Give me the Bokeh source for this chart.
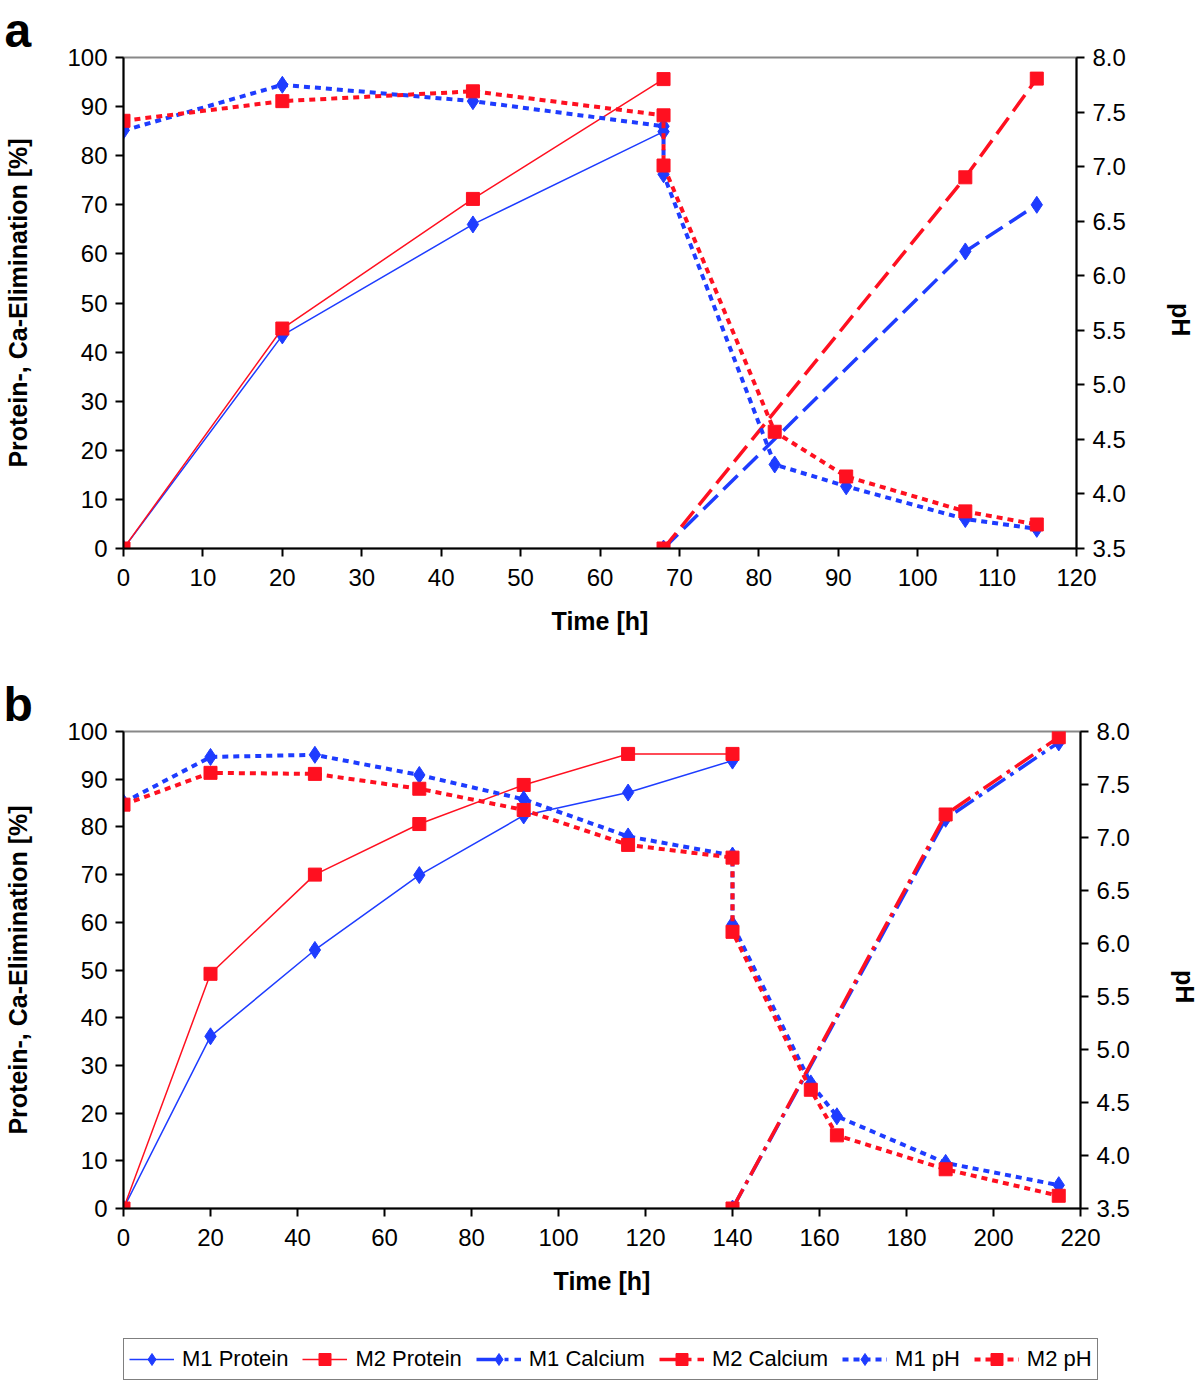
import math
from bokeh.plotting import figure
from bokeh.models import (Range1d, LinearAxis, FixedTicker, NumeralTickFormatter,
                          Legend, LegendItem)
from bokeh.layouts import column
from bokeh.embed import file_html
from bokeh.resources import INLINE

# ---------------- data ----------------
# Panel a
a_time_protein = [0, 20, 44, 68]
a_m1_protein = [0, 43.4, 66.0, 84.9]
a_m2_protein = [0, 44.8, 71.2, 95.6]
a_time_calcium = [68, 106, 115]
a_m1_calcium = [0, 60.5, 70.0]
a_m2_calcium = [0, 75.6, 95.7]
a_time_ph = [0, 20, 44, 68, 68, 82, 91, 106, 115]
a_m1_ph = [7.33, 7.75, 7.60, 7.37, 6.93, 4.27, 4.07, 3.77, 3.68]
a_m2_ph = [7.42, 7.60, 7.69, 7.47, 7.01, 4.57, 4.16, 3.84, 3.72]

# Panel b
b_time_protein = [0, 20, 44, 68, 92, 116, 140]
b_m1_protein = [0, 36.1, 54.2, 69.9, 82.4, 87.2, 93.9]
b_m2_protein = [0, 49.2, 70.0, 80.6, 88.8, 95.3, 95.3]
b_time_calcium = [140, 189, 215]
b_m1_calcium = [0, 81.7, 97.7]
b_m2_calcium = [0, 82.6, 98.8]
b_time_ph = [0, 20, 44, 68, 92, 116, 140, 140, 158, 164, 189, 215]
b_m1_ph = [7.33, 7.76, 7.78, 7.59, 7.36, 7.01, 6.83, 6.18, 4.68, 4.37, 3.93, 3.72]
b_m2_ph = [7.31, 7.61, 7.60, 7.46, 7.26, 6.93, 6.81, 6.11, 4.62, 4.19, 3.87, 3.62]

legend_labels = ["M1 Protein", "M2 Protein", "M1 Calcium", "M2 Calcium", "M1 pH", "M2 pH"]

BLUE = "#1e3cff"
RED = "#ff1020"
FONT = "Liberation Sans"
WIDTH = 1198


def add_series(p, t_prot, m1_prot, m2_prot, t_ca, m1_ca, m2_ca, t_ph, m1_ph, m2_ph, ca_dash):
    r = {}
    # Protein: thin solid lines
    r["M1 Protein"] = [p.line(t_prot, m1_prot, line_color=BLUE, line_width=1.5),
                       p.scatter(t_prot, m1_prot, marker="diamond", size=17,
                                 fill_color=BLUE, line_color=BLUE)]
    r["M2 Protein"] = [p.line(t_prot, m2_prot, line_color=RED, line_width=1.5),
                       p.scatter(t_prot, m2_prot, marker="square", size=13,
                                 fill_color=RED, line_color=RED)]
    # Calcium: thick dashed
    r["M1 Calcium"] = [p.line(t_ca, m1_ca, line_color=BLUE, line_width=3.5, line_dash=ca_dash),
                       p.scatter(t_ca, m1_ca, marker="diamond", size=17,
                                 fill_color=BLUE, line_color=BLUE)]
    r["M2 Calcium"] = [p.line(t_ca, m2_ca, line_color=RED, line_width=3.5, line_dash=ca_dash),
                       p.scatter(t_ca, m2_ca, marker="square", size=13,
                                 fill_color=RED, line_color=RED)]
    # pH: thick dotted on right axis
    r["M1 pH"] = [p.line(t_ph, m1_ph, line_color=BLUE, line_width=4, line_dash="6 5",
                         y_range_name="ph"),
                  p.scatter(t_ph, m1_ph, marker="diamond", size=17, fill_color=BLUE,
                            line_color=BLUE, y_range_name="ph")]
    r["M2 pH"] = [p.line(t_ph, m2_ph, line_color=RED, line_width=4, line_dash="6 5",
                         y_range_name="ph"),
                  p.scatter(t_ph, m2_ph, marker="square", size=13, fill_color=RED,
                            line_color=RED, y_range_name="ph")]
    return r


def make_panel(letter, x_max, x_step, frame_w, frame_h, left, top, bottom,
               t_prot, m1_prot, m2_prot, t_ca, m1_ca, m2_ca, t_ph, m1_ph, m2_ph,
               ca_dash):
    p = figure(width=WIDTH, height=top + frame_h + bottom,
               output_backend="svg", toolbar_location=None,
               x_range=Range1d(0, x_max), y_range=Range1d(0, 100),
               frame_width=frame_w, frame_height=frame_h,
               min_border_left=left, min_border_top=top,
               min_border_right=WIDTH - left - frame_w,
               min_border_bottom=bottom)
    p.extra_y_ranges = {"ph": Range1d(3.5, 8.0)}
    p.grid.visible = False
    p.outline_line_color = "#888888"
    p.outline_line_width = 2
    p.background_fill_color = "white"
    p.border_fill_color = "white"

    # panel letter as title
    p.title.text = letter
    p.title.align = "left"
    p.title.offset = -(left - 3)
    p.title.text_font = FONT
    p.title.text_font_style = "bold"
    p.title.text_font_size = "48px"
    p.title.text_color = "black"
    p.title.standoff = 2
    p.title.text_line_height = 1.0

    ph_axis = LinearAxis(y_range_name="ph")
    p.add_layout(ph_axis, "right")

    for ax in [p.xaxis[0], p.yaxis[0], ph_axis]:
        ax.axis_line_color = "black"
        ax.axis_line_width = 2
        ax.major_tick_line_color = "black"
        ax.major_tick_line_width = 2
        ax.major_tick_out = 8
        ax.major_tick_in = 0
        ax.minor_tick_line_color = None
        ax.major_label_text_font = FONT
        ax.major_label_text_font_size = "24px"
        ax.major_label_text_color = "black"
        ax.axis_label_text_font = FONT
        ax.axis_label_text_font_style = "bold"
        ax.axis_label_text_font_size = "25px"
        ax.axis_label_text_color = "black"
        ax.major_label_standoff = 8

    p.xaxis[0].ticker = FixedTicker(ticks=list(range(0, x_max + 1, x_step)))
    p.xaxis[0].axis_label = "Time [h]"
    p.xaxis[0].major_label_standoff = 12
    p.xaxis[0].axis_label_standoff = 18
    p.yaxis[0].ticker = FixedTicker(ticks=list(range(0, 101, 10)))
    p.yaxis[0].axis_label = "Protein-, Ca-Elimination [%]"
    p.yaxis[0].axis_label_standoff = 32
    ph_axis.ticker = FixedTicker(ticks=[3.5, 4.0, 4.5, 5.0, 5.5, 6.0, 6.5, 7.0, 7.5, 8.0])
    ph_axis.formatter = NumeralTickFormatter(format="0.0")
    ph_axis.axis_label = "pH"
    ph_axis.axis_label_standoff = 52
    try:
        ph_axis.axis_label_orientation = -math.pi / 2
    except Exception:
        pass

    r = add_series(p, t_prot, m1_prot, m2_prot, t_ca, m1_ca, m2_ca,
                   t_ph, m1_ph, m2_ph, ca_dash)
    return p, r


pa, ra = make_panel("a", 120, 10, 953, 491, 122, 57, 112,
                    a_time_protein, a_m1_protein, a_m2_protein,
                    a_time_calcium, a_m1_calcium, a_m2_calcium,
                    a_time_ph, a_m1_ph, a_m2_ph, "20 8")

pb, rb = make_panel("b", 220, 20, 957, 477, 123, 71, 124,
                    b_time_protein, b_m1_protein, b_m2_protein,
                    b_time_calcium, b_m1_calcium, b_m2_calcium,
                    b_time_ph, b_m1_ph, b_m2_ph, "22 6 4 6")

# ---- legend strip (series of panel b; its data lie outside this strip's view) ----
LEG_LEFT = 120
LEG_W = 1010
pl = figure(width=WIDTH, height=48, output_backend="svg", toolbar_location=None,
            x_range=Range1d(1000, 1001), y_range=Range1d(1000, 1001),
            frame_width=LEG_W, frame_height=42,
            min_border_left=LEG_LEFT, min_border_right=WIDTH - LEG_LEFT - LEG_W,
            min_border_top=6, min_border_bottom=0,
            x_axis_location=None, y_axis_location=None)
pl.extra_y_ranges = {"ph": Range1d(1000, 1001)}
pl.grid.visible = False
pl.outline_line_color = None
pl.background_fill_color = "white"
pl.border_fill_color = "white"
rl = add_series(pl, b_time_protein, b_m1_protein, b_m2_protein,
                b_time_calcium, b_m1_calcium, b_m2_calcium,
                b_time_ph, b_m1_ph, b_m2_ph, "22 6 4 6")

legend = Legend(items=[LegendItem(label=lab, renderers=rl[lab]) for lab in legend_labels],
                orientation="horizontal", location="top_left",
                label_text_font=FONT, label_text_font_size="22px",
                label_text_color="black",
                glyph_width=45, glyph_height=30, label_standoff=8, spacing=14,
                padding=5, margin=0, border_line_color="black", border_line_width=1.5,
                background_fill_color="white", background_fill_alpha=1.0)
pl.add_layout(legend)

layout = column(pa, pb, pl, spacing=0)
open("out.html", "w").write(file_html(layout, INLINE))
